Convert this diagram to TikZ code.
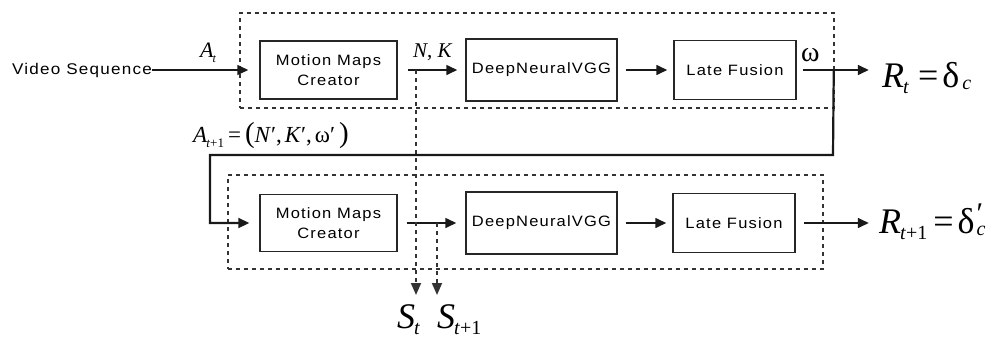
\documentclass[tikz,border=0pt]{standalone}
\usepackage{fontspec}
\setmainfont{Liberation Sans}
\newfontfamily\tms{Liberation Serif}
\newfontfamily\bx[FakeStretch=1.1,LetterSpace=8]{Liberation Sans}
\usetikzlibrary{arrows.meta}
\begin{document}
\begin{tikzpicture}[x=1pt,y=-1pt,
  box/.style={draw=black!85,line width=1.5pt,inner sep=0pt,align=center,font=\bx\fontsize{15}{20}\selectfont},
  arr/.style={draw=black!90,line width=1.6pt,-{Triangle[length=11pt,width=10pt]}},
  fbline/.style={draw=black!90,line width=2.2pt,-{Triangle[length=11pt,width=10pt]}},
  frame/.style={draw=black!80,line width=1.8pt,dash pattern=on 4pt off 4pt,inner sep=0pt},
  dotline/.style={draw=black!80,line width=1.8pt,dash pattern=on 4pt off 4pt,-{Triangle[length=12pt,width=10pt]}},
  lbl/.style={inner sep=0pt,font=\tms},
]
\useasboundingbox (0,0) rectangle (1003,337);
% dashed frames
\node[frame,minimum width=594pt,minimum height=95pt] (g1) at (537,60.5) {};
\node[frame,minimum width=595pt,minimum height=94pt] (g2) at (525.5,222) {};
% boxes
\node[box,minimum width=137pt,minimum height=58pt] (mm1) at (328.5,70) {Motion Maps\\Creator};
\node[box,minimum width=151pt,minimum height=62pt] (dn1) at (541.5,70) {DeepNeuralVGG};
\node[box,minimum width=122pt,minimum height=59pt] (lf1) at (735,70) {Late Fusion};
\node[box,minimum width=137pt,minimum height=57pt] (mm2) at (328.5,223) {Motion Maps\\Creator};
\node[box,minimum width=151pt,minimum height=62pt] (dn2) at (541.5,223) {DeepNeuralVGG};
\node[box,minimum width=122pt,minimum height=59pt] (lf2) at (734,223) {Late Fusion};
% input
\node[inner sep=0pt,anchor=east,font=\bx\fontsize{15.5}{18}\selectfont] (vs) at (152,70) {Video Sequence};
\draw[arr] (vs.east) -- ([xshift=-11pt]mm1.west);
% top row
\draw[arr] ([xshift=10pt]mm1.east) -- ([xshift=-8pt]dn1.west);
\draw[arr] ([xshift=8pt]dn1.east) -- ([xshift=-6pt]lf1.west);
\draw[arr] ([xshift=6pt]lf1.east) -- ([xshift=72pt]lf1.east);
% bottom row
\draw[arr] ([xshift=9pt]mm2.east) -- ([xshift=-9pt]dn2.west);
\draw[arr] ([xshift=8pt]dn2.east) -- ([xshift=-6pt]lf2.west);
\draw[arr] ([xshift=8pt]lf2.east) -- ([xshift=73pt]lf2.east);
% feedback
\coordinate (f1) at ([xshift=37pt]lf1.east);
\coordinate (f2) at (833,155);
\coordinate (f3) at (210,155);
\draw[fbline] (f1) -- (f2) -- (f3) |- ([xshift=-10pt]mm2.west);
% dotted outputs
\coordinate (d1) at (416,70);
\coordinate (d1e) at (416,295);
\coordinate (d2) at (437,223);
\coordinate (d2e) at (437,295);
\draw[dotline] (d1) -- (d1e);
\draw[dotline] (d2) -- (d2e);
% labels
\node[lbl,anchor=base west] (At) at (200,58) {\fontsize{22}{22}\selectfont\textit{A}\kern-1pt\raisebox{-5pt}{\fontsize{12}{12}\selectfont\textit{t}}};
\node[lbl,anchor=base west] (NK) at (413,57) {\fontsize{21}{21}\selectfont\textit{N}, \textit{K}};
\node[lbl,anchor=base west] (om) at (801,61) {\fontsize{28}{28}\selectfont ω};
\node[lbl,anchor=base west] (Rt) at (882,87) {\fontsize{36}{36}\selectfont\textit{R}\kern-1pt\raisebox{-6pt}{\fontsize{20}{20}\selectfont\textit{t}}\kern9pt=\kern4pt δ\kern3pt\raisebox{-2pt}{\fontsize{20}{20}\selectfont\textit{c}}};
\node[lbl,anchor=base west] (Rt1) at (879,233) {\fontsize{36}{36}\selectfont\textit{R}\kern-1pt\raisebox{-6pt}{\fontsize{20}{20}\selectfont\textit{t}+1}\kern6pt=\kern4pt δ\kern2pt\makebox[0pt][l]{\raisebox{10pt}{\fontsize{30}{30}\selectfont ′}}\raisebox{-2pt}{\fontsize{20}{20}\selectfont\textit{c}}};
\node[lbl,anchor=base west] (At1) at (193,142) {\fontsize{23}{23}\selectfont\textit{A}\kern-1pt\raisebox{-5pt}{\fontsize{13}{13}\selectfont\textit{t}+1}\kern4pt=\kern4pt{\fontsize{29}{29}\selectfont(}\textit{N}′,\kern3pt\textit{K}′,\kern3ptω′\kern4pt{\fontsize{29}{29}\selectfont)}};
\node[lbl,anchor=base west] (St) at (397,328) {\fontsize{36}{36}\selectfont\textit{S}\kern-1pt\raisebox{-6pt}{\fontsize{20}{20}\selectfont\textit{t}}};
\node[lbl,anchor=base west] (St1) at (437,328) {\fontsize{36}{36}\selectfont\textit{S}\kern-1pt\raisebox{-6pt}{\fontsize{20}{20}\selectfont\textit{t}+1}};
\end{tikzpicture}
\end{document}
